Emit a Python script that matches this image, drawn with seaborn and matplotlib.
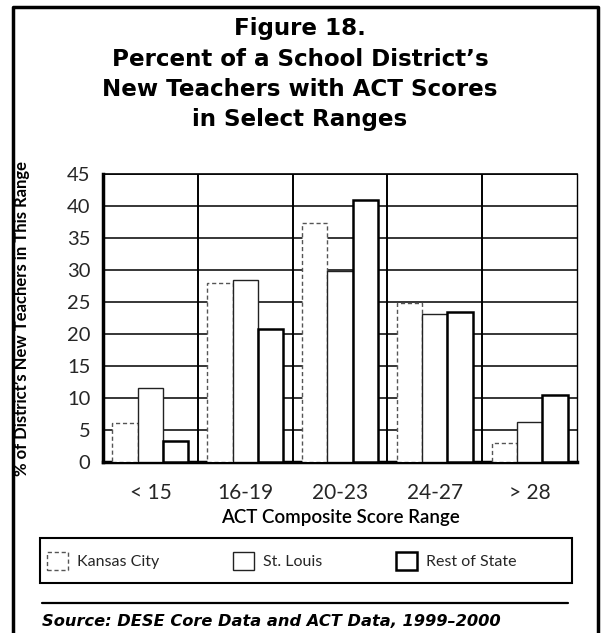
import matplotlib
matplotlib.use("Agg")
import matplotlib.pyplot as plt
from matplotlib.lines import Line2D
from matplotlib.patches import Patch, Rectangle
import seaborn as sns
import pandas as pd
import numpy as np

# ---- data ----
categories = ["< 15", "16-19", "20-23", "24-27", "> 28"]
series = ["Kansas City", "St. Louis", "Rest of State"]
kansas_city = [6.1, 28.0, 37.4, 24.8, 3.0]
st_louis = [11.5, 28.4, 29.9, 23.1, 6.3]
rest_of_state = [3.3, 20.8, 40.9, 23.4, 10.5]
y_ticks = [0, 5, 10, 15, 20, 25, 30, 35, 40, 45]

title_lines = ["Figure 18.",
               "Percent of a School District\u2019s",
               "New Teachers with ACT Scores",
               "in Select Ranges"]
y_label = "% of District\u2019s New Teachers in This Range"
x_label = "ACT Composite Score Range"
source = "Source: DESE Core Data and ACT Data, 1999\u20132000"

df = pd.DataFrame({
    "range": categories * 3,
    "region": [s for s in series for _ in categories],
    "pct": kansas_city + st_louis + rest_of_state,
})

sns.set_theme(style="white")
plt.rcParams["font.family"] = ["Lato", "DejaVu Sans"]

W, H = 601, 633
fig = plt.figure(figsize=(W / 100, H / 100), dpi=100)
fig.patch.set_facecolor("white")

def fx(x):
    return x / W

def fy(y):
    return 1 - y / H

ax = fig.add_axes([fx(103), fy(462), fx(577) - fx(103), fy(174) - fy(462)])

sns.barplot(data=df, x="range", y="pct", hue="region", order=categories,
            hue_order=series, palette=["white"] * 3, edgecolor="black",
            width=0.8, ax=ax, legend=False, saturation=1)

styles = [
    dict(edgecolor="#555555", linestyle=(0, (3, 2)), linewidth=1.0),
    dict(edgecolor="#222222", linestyle="-", linewidth=1.0),
    dict(edgecolor="black", linestyle="-", linewidth=1.8),
]
for cont, st in zip(ax.containers, styles):
    for p in cont.patches:
        p.set_edgecolor(st["edgecolor"])
        p.set_linestyle(st["linestyle"])
        p.set_linewidth(st["linewidth"])
        p.set_zorder(3)

ax.set_ylim(0, 45)
ax.set_xlim(-0.5, len(categories) - 0.5)
ax.set_yticks(y_ticks)
ax.set_yticklabels([str(t) for t in y_ticks], fontsize=14.5)
ax.tick_params(axis="y", length=3, width=1, direction="out", color="black", pad=6)
ax.tick_params(axis="x", length=0, pad=15, labelsize=15)
ax.set_xlabel("")
ax.set_ylabel("")

ax.set_axisbelow(True)
ax.yaxis.grid(True, color="black", linewidth=1.1)
for i in range(1, len(categories)):
    ax.axvline(i - 0.5, color="black", linewidth=1.4, zorder=2)

for side, lw in [("left", 2.5), ("bottom", 2.5), ("top", 1.2), ("right", 1.0)]:
    ax.spines[side].set_visible(True)
    ax.spines[side].set_color("black")
    ax.spines[side].set_linewidth(lw)

# titles
for i, line in enumerate(title_lines):
    fig.text(fx(300), fy(29 + 30.3 * i), line, ha="center", va="center",
             fontsize=16.6, fontweight="bold", color="black",
             family=["DejaVu Sans"])

fig.text(fx(22), fy(319), y_label, rotation=90, ha="center", va="center",
         fontsize=12, fontweight="bold", color="black")
fig.text(fx(340), fy(518), x_label, ha="center", va="center",
         fontsize=13.5, fontweight="semibold", color="black")

# legend box
fig.add_artist(Rectangle((fx(40), fy(583)), fx(572) - fx(40), fy(538) - fy(583),
                         transform=fig.transFigure, facecolor="white",
                         edgecolor="black", linewidth=1.5))
handles = [Patch(facecolor="white", edgecolor=st["edgecolor"],
                 linestyle=st["linestyle"], linewidth=st["linewidth"])
           for st in styles]
leg = fig.legend(handles, series, ncol=3, loc="center left",
                 bbox_to_anchor=(fx(47), fy(561)),
                 frameon=False, fontsize=11.5,
                 handlelength=1.3, handleheight=1.3, borderaxespad=0,
                 borderpad=0, handletextpad=0.6, columnspacing=4.6)

fig.add_artist(Line2D([fx(42), fx(568)], [fy(603), fy(603)], color="black", linewidth=1.6))
fig.text(fx(42), fy(622), source, ha="left", va="center", fontsize=11.7,
         fontweight="bold", fontstyle="italic", color="black",
         family=["DejaVu Sans"])

# outer frame
fig.add_artist(Line2D([fx(13), fx(13), fx(598), fx(598)], [fy(633), fy(7), fy(7), fy(633)],
                      color="black", linewidth=2.5))

fig.savefig("out.png", dpi=100, facecolor="white")
